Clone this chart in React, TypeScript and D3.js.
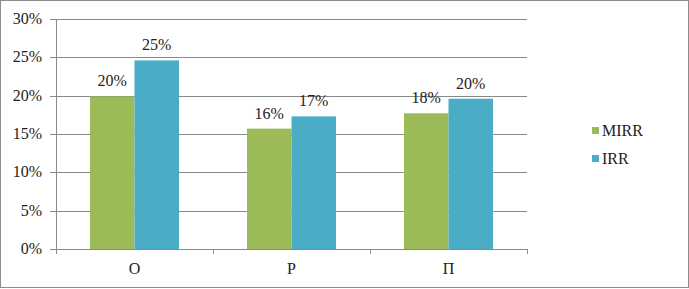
import { useEffect, useRef } from 'react';
import * as d3 from 'd3';

const categories = ['О', 'Р', 'П'];
const seriesNames = ['MIRR', 'IRR'];
const mirrValues = [0.199, 0.157, 0.177];
const irrValues = [0.246, 0.173, 0.196];
const yTicks = [0, 0.05, 0.1, 0.15, 0.2, 0.25, 0.3];
const colors = ['#9BBB59', '#4BACC6'];

function App() {
  const ref = useRef<SVGSVGElement>(null);

  useEffect(() => {
    document.body.style.margin = '0';
    const svg = d3.select(ref.current);
    svg.selectAll('*').remove();

    const width = 689;
    const height = 289;
    const margin = { top: 19, left: 56, right: 162, bottom: 40 };

    // outer frame
    svg.append('rect')
      .attr('x', 0.5).attr('y', 0.5)
      .attr('width', width - 1).attr('height', height - 2)
      .attr('fill', 'white').attr('stroke', '#8c8c8c');

    const x = d3.scaleBand()
      .domain(categories)
      .range([margin.left, width - margin.right]);

    const inner = d3.scaleBand()
      .domain(seriesNames)
      .range([0, x.bandwidth()])
      .paddingOuter(0.764)
      .paddingInner(0);

    const y = d3.scaleLinear()
      .domain([0, 0.3])
      .range([249, margin.top]);

    const txt = (sel: any) => sel
      .attr('font-family', 'Liberation Serif')
      .attr('font-size', 16)
      .attr('fill', '#222');

    // gridlines + y ticks
    svg.append('g').selectAll('line')
      .data(yTicks)
      .enter().append('line')
      .attr('x1', margin.left - 6).attr('x2', width - margin.right)
      .attr('y1', (d) => Math.round(y(d)) + 0.5).attr('y2', (d) => Math.round(y(d)) + 0.5)
      .attr('stroke', '#8a8a8a').attr('stroke-width', 1);

    svg.append('g').selectAll('text')
      .data(yTicks)
      .enter().append('text')
      .attr('x', 42)
      .attr('y', (d) => y(d) + 5)
      .attr('text-anchor', 'end')
      .call(txt)
      .text((d) => d3.format('.0%')(d));

    // axes lines
    svg.append('line')
      .attr('x1', margin.left + 0.5).attr('x2', margin.left + 0.5)
      .attr('y1', margin.top).attr('y2', 249)
      .attr('stroke', '#8a8a8a');

    const xEdges = [...categories.map((c) => x(c) as number), width - margin.right];
    svg.append('g').selectAll('line')
      .data(xEdges)
      .enter().append('line')
      .attr('x1', (d) => Math.round(d) + 0.5).attr('x2', (d) => Math.round(d) + 0.5)
      .attr('y1', 249).attr('y2', 254)
      .attr('stroke', '#8a8a8a');

    svg.append('g').selectAll('text')
      .data(categories)
      .enter().append('text')
      .attr('x', (d) => (x(d) as number) + x.bandwidth() / 2)
      .attr('y', 274)
      .attr('text-anchor', 'middle')
      .call(txt)
      .text((d) => d);

    // bars
    const seriesData = [mirrValues, irrValues];
    seriesNames.forEach((name, si) => {
      const rows = categories.map((c, i) => ({ c, v: seriesData[si][i] }));
      const g = svg.append('g');
      g.selectAll('rect')
        .data(rows)
        .enter().append('rect')
        .attr('x', (d) => (x(d.c) as number) + (inner(name) as number))
        .attr('y', (d) => y(d.v))
        .attr('width', inner.bandwidth())
        .attr('height', (d) => 249 - y(d.v))
        .attr('fill', colors[si]);

      g.selectAll('text')
        .data(rows)
        .enter().append('text')
        .attr('x', (d) => (x(d.c) as number) + (inner(name) as number) + inner.bandwidth() / 2)
        .attr('y', (d) => y(d.v) - 10)
        .attr('text-anchor', 'middle')
        .call(txt)
        .text((d) => d3.format('.0%')(d.v));
    });

    // legend
    const legend = svg.append('g');
    seriesNames.forEach((name, i) => {
      legend.append('rect')
        .attr('x', 592).attr('y', 127 + i * 28)
        .attr('width', 7).attr('height', 7)
        .attr('fill', colors[i]);
      legend.append('text')
        .attr('x', 602).attr('y', 136 + i * 28)
        .call(txt)
        .text(name);
    });
  }, []);

  return <svg ref={ref} width={689} height={289} style={{ display: 'block' }}></svg>;
}

export default App;
